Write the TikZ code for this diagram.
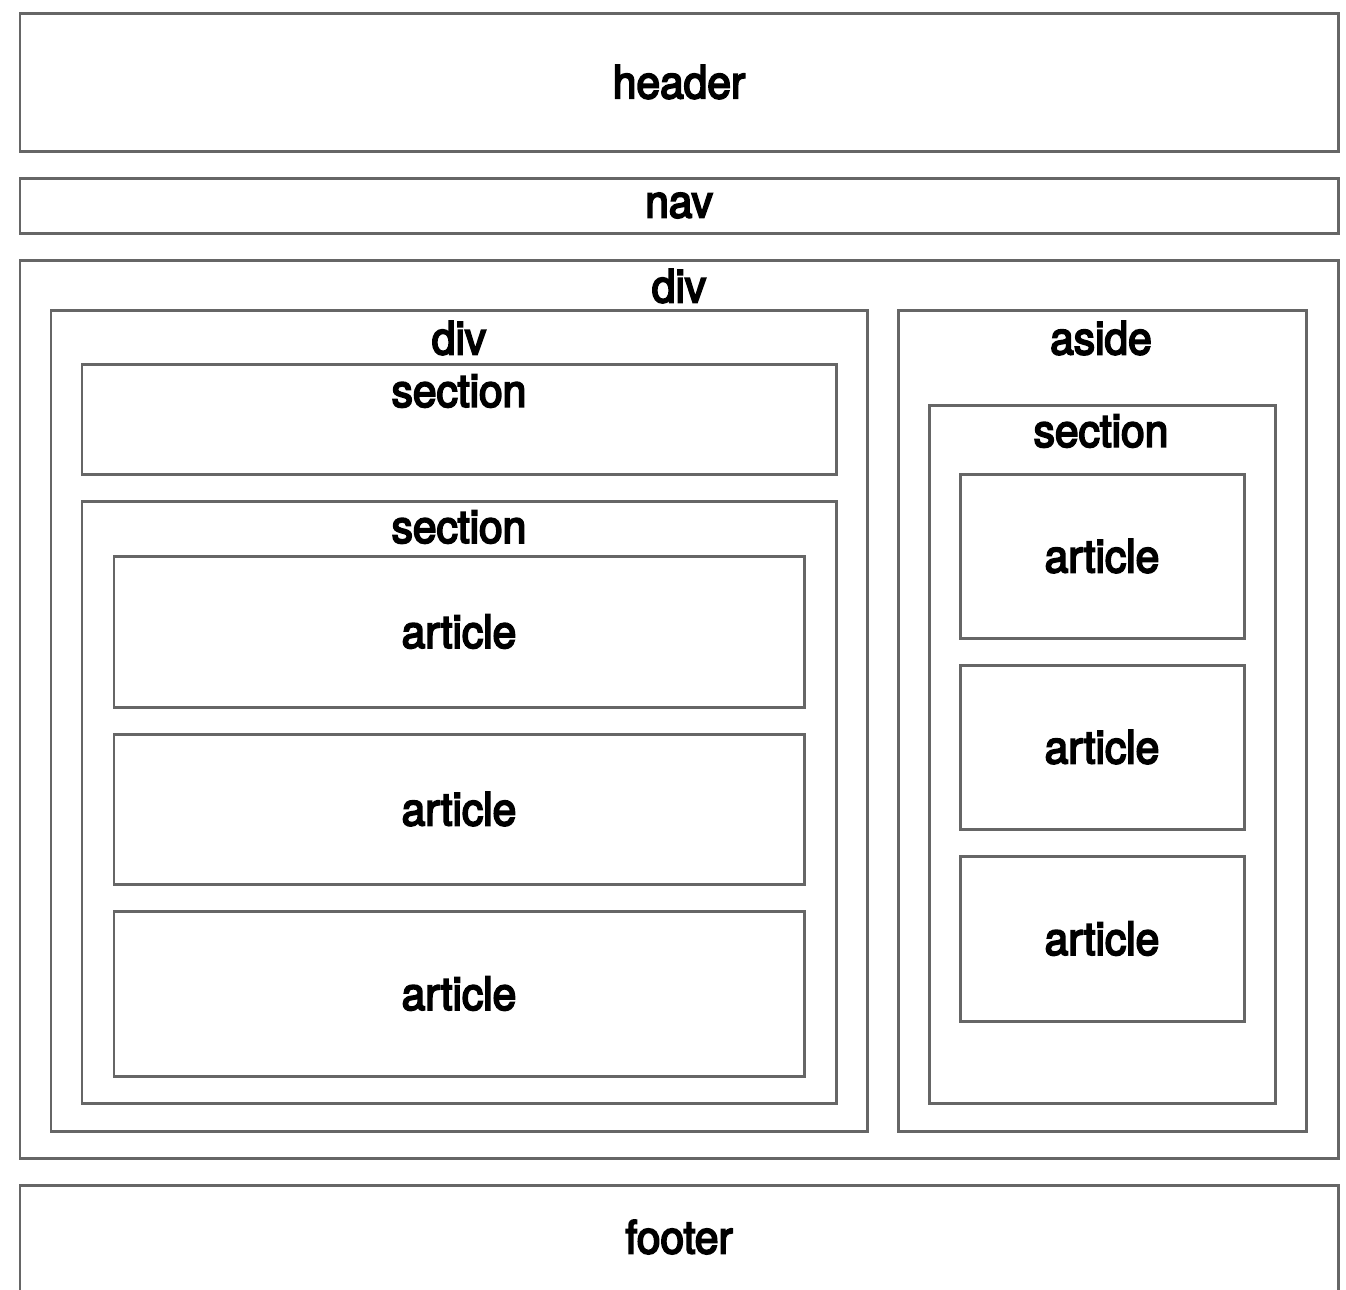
\documentclass[tikz,border=0pt]{standalone}
\usepackage{fontspec}
\setmainfont{TeX Gyre Heros}[FakeStretch=0.92]
\newfontfamily\boxfont{TeX Gyre Heros}[FakeStretch=0.93,FakeBold=4]

\begin{document}
\begin{tikzpicture}[
			box/.style={draw=black!60, line width=0.85pt, inner sep=0pt, font=\boxfont\fontsize{13}{15}\selectfont},
			lbl/.style={inner sep=0pt, font=\boxfont\fontsize{13}{15}\selectfont}
		]
		\useasboundingbox (0,0) rectangle (13.46,-12.89);

		\node[box, minimum width=13.18cm, minimum height=1.38cm] (header) at (6.79,-0.82) {header};
		\node[box, minimum width=13.18cm, minimum height=0.55cm] (nav) at (6.79,-2.055) {nav};

		\node[box, minimum width=13.18cm, minimum height=8.98cm] (mainDiv) at (6.79,-7.09) {};
		\node[lbl] (mainDivLabel) at (6.79,-2.86) {div};

		\node[box, minimum width=8.16cm, minimum height=8.21cm] (leftDiv) at (4.59,-7.205) {};
		\node[lbl] (leftDivLabel) at (4.59,-3.38) {div};

		\node[box, minimum width=7.54cm, minimum height=1.10cm] (topSection) at (4.59,-4.19) {};
		\node[lbl] (topSectionLabel) at (4.59,-3.91) {section};

		\node[box, minimum width=7.54cm, minimum height=6.02cm] (mainSection) at (4.59,-8.02) {};
		\node[lbl] (mainSectionLabel) at (4.59,-5.27) {section};

		\node[box, minimum width=6.90cm, minimum height=1.51cm] (articleA) at (4.59,-6.315) {article};
		\node[box, minimum width=6.90cm, minimum height=1.50cm] (articleB) at (4.59,-8.09) {article};
		\node[box, minimum width=6.90cm, minimum height=1.65cm] (articleC) at (4.59,-9.935) {article};

		\node[box, minimum width=4.08cm, minimum height=8.21cm] (aside) at (11.02,-7.205) {};
		\node[lbl] (asideLabel) at (11.01,-3.38) {aside};

		\node[box, minimum width=3.46cm, minimum height=6.98cm] (asideSection) at (11.02,-7.54) {};
		\node[lbl] (asideSectionLabel) at (11.01,-4.31) {section};

		\node[box, minimum width=2.84cm, minimum height=1.64cm] (asideArticleA) at (11.02,-5.56) {article};
		\node[box, minimum width=2.84cm, minimum height=1.64cm] (asideArticleB) at (11.02,-7.47) {article};
		\node[box, minimum width=2.84cm, minimum height=1.65cm] (asideArticleC) at (11.02,-9.385) {article};

		\node[box, minimum width=13.18cm, minimum height=1.40cm] (footer) at (6.79,-12.55) {};
		\node[lbl] (footerLabel) at (6.79,-12.37) {footer};

	\end{tikzpicture}
\end{document}
